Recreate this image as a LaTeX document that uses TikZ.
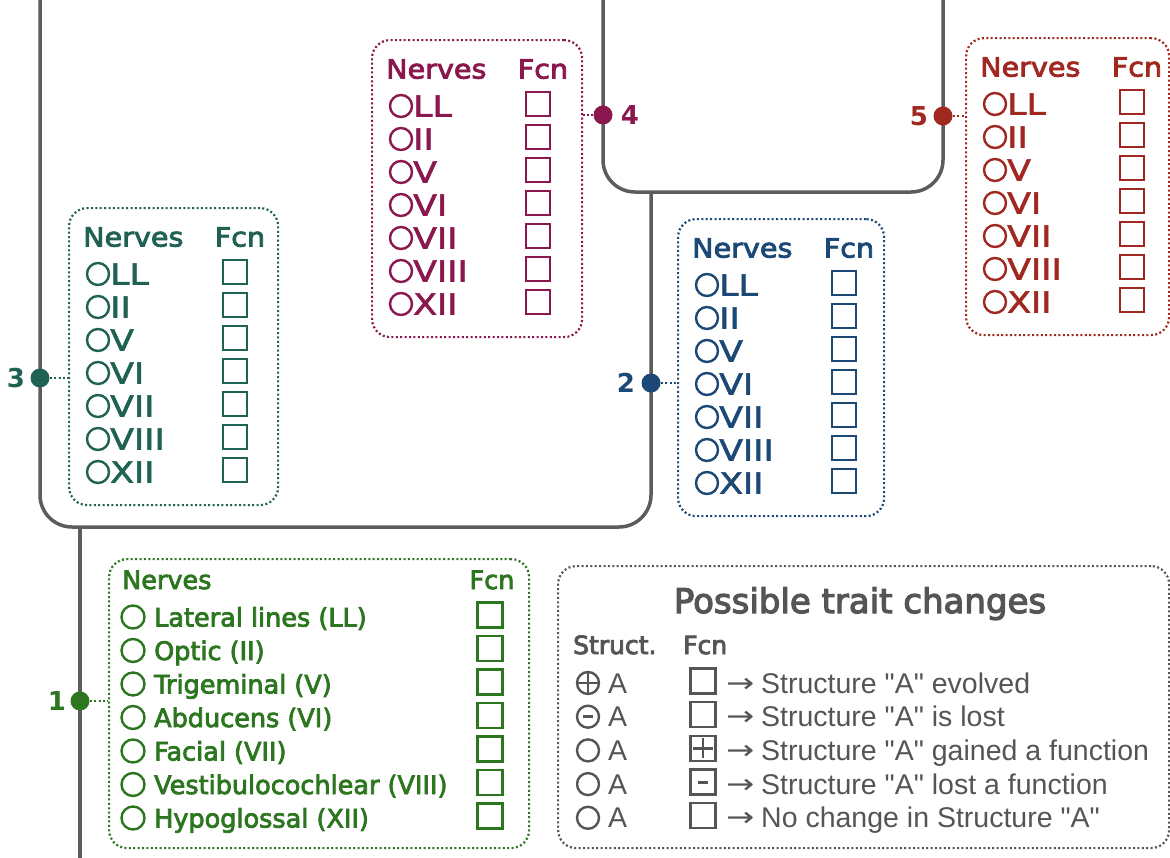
\documentclass[tikz,border=0pt]{standalone}
\usepackage{fontspec}
\setmainfont{DejaVu Sans}
\newfontfamily\bxfont{DejaVu Sans}[FakeBold=3.2, FakeStretch=1.08]
\newfontfamily\rwfont{DejaVu Sans}[FakeBold=2.0, FakeStretch=1.2]
\newfontfamily\onefont{DejaVu Sans}[FakeBold=3.0]
\newfontfamily\ttlfont{DejaVu Sans}[FakeBold=3.5]
\newfontfamily\lgfont{Liberation Sans}[Ligatures=TeXOff]
\newfontfamily\arfont{DejaVu Sans}[FakeStretch=1.25]
\usetikzlibrary{calc}

\definecolor{cteal}{RGB}{31,98,84}
\definecolor{cmag}{RGB}{138,24,78}
\definecolor{cblue}{RGB}{28,72,118}
\definecolor{cred}{RGB}{160,40,32}
\definecolor{cgreen}{RGB}{44,118,32}
\definecolor{cline}{RGB}{92,92,92}
\definecolor{cleg}{RGB}{85,85,85}

\tikzset{
 branch/.style={draw=cline, line width=3.5pt, rounded corners=32pt},
 trunk/.style={draw=cline, line width=3.5pt},
 nbox/.style={draw, line width=2.2pt, dash pattern=on 2pt off 2.4pt, rounded corners=18pt, anchor=north west, inner sep=0pt},
 nodedot/.style={circle, fill, inner sep=0pt, minimum size=19pt},
 numlab/.style={font=\bfseries\fontsize{26}{30}\selectfont, inner sep=0pt},
 link/.style={line width=2.2pt, dash pattern=on 2pt off 2.4pt},
 txt/.style={inner sep=0pt, anchor=base west, font=\rwfont\fontsize{29}{34}\selectfont},
 hdr/.style={inner sep=0pt, anchor=base, font=\bxfont\fontsize{26.5}{32}\selectfont},
 hdrw/.style={inner sep=0pt, anchor=base west, font=\bxfont\fontsize{26.5}{32}\selectfont},
 txtb/.style={inner sep=0pt, anchor=base west, font=\onefont\fontsize{25.5}{30}\selectfont},
 hdrb/.style={inner sep=0pt, anchor=base, font=\onefont\fontsize{25.5}{30}\selectfont},
 ring/.style={line width=2.4pt},
 sq/.style={line width=2.3pt},
 lgtxt/.style={inner sep=0pt, anchor=base west, font=\lgfont\fontsize{28.5}{32}\selectfont, text=cleg},
 lgarr/.style={inner sep=0pt, anchor=base west, font=\arfont\fontsize{27}{32}\selectfont, text=cleg},
 lghdr/.style={inner sep=0pt, anchor=base west, font=\ttlfont\fontsize{25}{30}\selectfont, text=cleg},
}

\newcommand\nervebox[5]{%
 \node[nbox, draw=#2, minimum width=#5pt, minimum height=297pt] (#1) at (#3,#4) {};
 \begin{scope}[shift={(#1.north west)}, #2]
  \node[hdrw] (#1-h1) at (15,39.5) {Nerves};
  \node[hdr] (#1-h2) at (172,39.5) {Fcn};
  \foreach \t [count=\k from 0] in {LL,II,V,VI,VII,VIII,XII}{
    \pgfmathsetmacro\yy{67+33*\k}
    \draw[ring] (30,\yy) circle[radius=11pt];
    \node[txt] (#1-t\k) at (42,\yy+10.5) {\t};
    \draw[sq] (155,\yy-14) rectangle ++(24,24);
  }
 \end{scope}
}

\begin{document}
\begin{tikzpicture}[x=1pt,y=-1pt]
\useasboundingbox (0,0) rectangle (1170,857);
\fill[white] (0,0) rectangle (1170,857);

% tree
\draw[branch] (40,-5) -- (40,527) -- (651,527) -- (651,192);
\draw[branch] (603,-5) -- (603,192) -- (943,192) -- (943,-5);
\draw[trunk] (80,527) -- (80,862);

% nerve boxes
\nervebox{b3}{cteal}{68}{207}{209}
\nervebox{b4}{cmag}{371}{39}{210}
\nervebox{b2}{cblue}{677}{218}{206}
\nervebox{b5}{cred}{965}{37}{203}

% box 1
\node[nbox, draw=cgreen, minimum width=420pt, minimum height=289pt] (b1) at (108,558) {};
\begin{scope}[shift={(b1.north west)}, cgreen]
 \node[txtb] (b1-h1) at (14,31) {Nerves};
 \node[hdrb] (b1-h2) at (384,31) {Fcn};
 \foreach \t [count=\k from 0] in {Lateral lines (LL),Optic (II),Trigeminal (V),Abducens (VI),Facial (VII),Vestibulocochlear (VIII),Hypoglossal (XII)}{
   \pgfmathsetmacro\yy{59+33.5*\k}
   \draw[ring] (25,\yy) circle[radius=11.5pt];
   \node[txtb] (b1-t\k) at (46,\yy+9.5) {\t};
   \draw[sq] (369.5,\yy-14.5) rectangle ++(25,25);
 }
\end{scope}

% dots, labels, links
\node[nodedot, cteal] (d3) at (40,378) {};
\node[numlab, text=cteal] (l3) at (16,378) {3};
\draw[link, cteal] (d3) -- (d3 -| b3.west);

\node[nodedot, cblue] (d2) at (651,383) {};
\node[numlab, text=cblue] (l2) at (626,383) {2};
\draw[link, cblue] (d2) -- (d2 -| b2.west);

\node[nodedot, cmag] (d4) at (603,115) {};
\node[numlab, text=cmag] (l4) at (630,115) {4};
\draw[link, cmag] (d4) -- (d4 -| b4.east);

\node[nodedot, cred] (d5) at (943,116) {};
\node[numlab, text=cred] (l5) at (919,116) {5};
\draw[link, cred] (d5) -- (d5 -| b5.west);

\node[nodedot, cgreen] (d1) at (80,701) {};
\node[numlab, text=cgreen] (l1) at (57,701) {1};
\draw[link, cgreen] (d1) -- (d1 -| b1.west);

% legend
\node[nbox, draw=cleg, minimum width=611pt, minimum height=282pt] (lg) at (557,565) {};
\node[inner sep=0pt, anchor=base, font=\ttlfont\fontsize{34}{40}\selectfont, text=cleg] (lg-t) at (860,613) {Possible trait changes};
\node[lghdr] (lg-s) at (573,654) {Struct.};
\node[lghdr] (lg-f) at (683,654) {Fcn};
\begin{scope}[cleg]
 \foreach \tx [count=\k from 0] in {Structure "A" evolved,Structure "A" is lost,Structure "A" gained a function,Structure "A" lost a function,No change in Structure "A"}{
   \pgfmathsetmacro\yy{683+33.7*\k}
   \draw[ring] (588,\yy) circle[radius=11pt];
   \node[lgtxt] (lg-a\k) at (608,\yy+10) {A};
   \draw[sq] (690.5,\yy-14.5) rectangle ++(25,25);
   \node[lgarr] (lg-r\k) at (726,\yy+9) {→};
   \node[lgtxt] (lg-x\k) at (761,\yy+10) {\tx};
 }
 % struct symbols
 \draw[line width=2.6pt] (578,683) -- (598,683) (588,673) -- (588,693);
 \draw[line width=3.2pt] (583,716.7) -- (593,716.7);
 % function symbols
 \draw[line width=2.6pt] (693,748.4) -- (713,748.4) (703,738.4) -- (703,758.4);
 \draw[line width=3.2pt] (698,782.1) -- (708,782.1);
\end{scope}
\end{tikzpicture}
\end{document}
